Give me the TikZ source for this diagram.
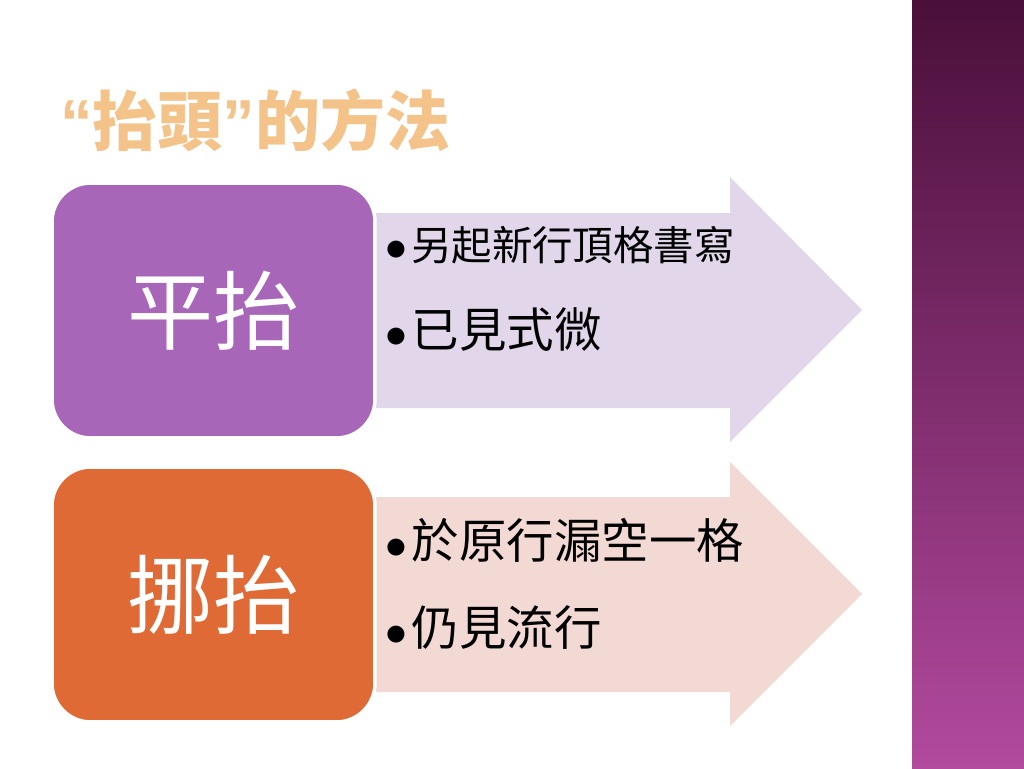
\documentclass[tikz,border=0pt]{standalone}
\usepackage{fontspec}
\setmainfont{Noto Sans CJK TC}
\newfontfamily\quotefont{Liberation Sans}
\usetikzlibrary{positioning}
\definecolor{barTop}{HTML}{4A0F3A}
\definecolor{barBot}{HTML}{B24A9E}
\definecolor{titleOr}{HTML}{F4C38A}
\definecolor{pingPurple}{HTML}{A866B8}
\definecolor{pingArrow}{HTML}{E2D7EA}
\definecolor{nuoOrange}{HTML}{E06A35}
\definecolor{nuoArrow}{HTML}{F3D9D4}
\tikzset{
  labelbox/.style={rounded corners=22pt,draw=white,line width=2pt,minimum width=6.46cm,minimum height=5.1cm,text=white,font=\fontsize{49}{53}\selectfont},
  bullet/.style={anchor=west,inner sep=0pt,font=\fontsize{27}{31}\selectfont},
  smallbullet/.style={bullet,font=\fontsize{23}{27}\selectfont}
}
\newcommand{\dotitem}{$\bullet$\hspace{0.1em}}
\begin{document}
\begin{tikzpicture}[x=0.02cm,y=-0.02cm]
        \useasboundingbox[fill=white] (0,0) rectangle (1024,768);
        \shade[top color=barTop,bottom color=barBot] (912,0) rectangle (1024,768);

        \node[anchor=west,inner sep=0pt,text=titleOr,font=\fontsize{37}{41}\selectfont\bfseries] (title) at (60,120) {{\quotefont “}抬頭{\quotefont ”}的方法};

        % first row
        \fill[pingArrow] (370,213) -- (730,213) -- (730,177) -- (862,310) -- (730,442) -- (730,408) -- (370,408) -- cycle;
        \node[labelbox,fill=pingPurple] (ping) at (213.5,310.5) {平抬};
        \node[smallbullet] (p1) at (385,245) {\dotitem 另起新行頂格書寫};
        \node[bullet] (p2) at (385,330) {\dotitem 已見式微};

        % second row
        \fill[nuoArrow] (370,497) -- (730,497) -- (730,462) -- (862,594) -- (730,726) -- (730,692) -- (370,692) -- cycle;
        \node[labelbox,fill=nuoOrange] (nuo) at (213.5,594.5) {挪抬};
        \node[bullet] (n1) at (385,540) {\dotitem 於原行漏空一格};
        \node[bullet] (n2) at (385,628) {\dotitem 仍見流行};
\end{tikzpicture}
\end{document}
